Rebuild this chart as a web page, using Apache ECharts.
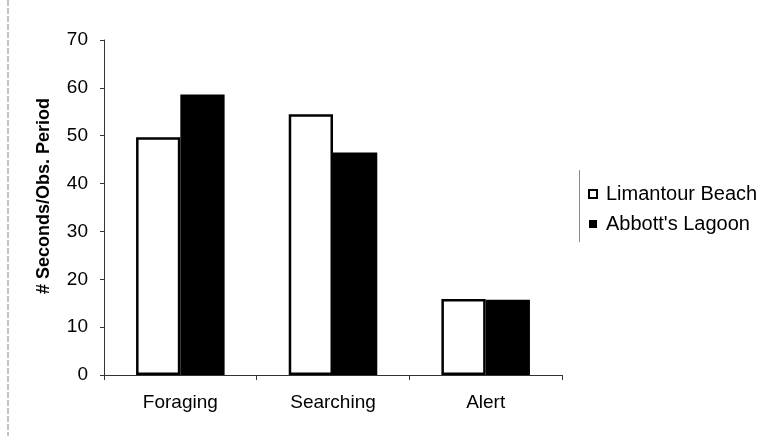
<!DOCTYPE html>
<html><head><meta charset="utf-8">
<script src="https://cdn.jsdelivr.net/npm/echarts@6/dist/echarts.min.js"></script>
<style>html,body{margin:0;padding:0;background:#fff}#c{width:761px;height:436px}</style>
</head><body><div id="c"></div>
<script>
const categories = ['Foraging', 'Searching', 'Alert'];
const limantour = [49.7, 54.5, 15.9];
const abbotts = [58.6, 46.5, 15.7];
const seriesNames = ['Limantour Beach', "Abbott's Lagoon"];
const yTicks = [0, 10, 20, 30, 40, 50, 60, 70];
const yTitle = '# Seconds/Obs. Period';

const chart = echarts.init(document.getElementById('c'));
const font = 'Liberation Sans, Arial, sans-serif';
chart.setOption({
  animation: false,
  backgroundColor: '#fff',
  grid: { left: 104, right: 199, top: 40, bottom: 61, containLabel: false },
  xAxis: {
    type: 'category', data: categories,
    axisLine: { lineStyle: { color: '#333', width: 1 } },
    axisTick: { show: true, length: 5, lineStyle: { color: '#333' } },
    axisLabel: { color: '#000', fontSize: 19, fontFamily: font, margin: 18 }
  },
  yAxis: {
    type: 'value', min: yTicks[0], max: yTicks[yTicks.length - 1], interval: 10,
    axisLine: { show: true, lineStyle: { color: '#333', width: 1 } },
    axisTick: { show: true, length: 4, lineStyle: { color: '#333' } },
    axisLabel: { color: '#000', fontSize: 19, fontFamily: font, margin: 16 },
    splitLine: { show: false }
  },
  legend: {
    orient: 'vertical', left: 583, top: 179, itemGap: 10,
    itemWidth: 8, itemHeight: 8, icon: 'rect',
    textStyle: { color: '#000', fontSize: 20, lineHeight: 20, fontFamily: font, padding: [0, 0, 0, 4] },
    data: seriesNames
  },
  series: [
    { name: seriesNames[0], type: 'bar', data: limantour, barGap: '0%', barCategoryGap: '42%',
      itemStyle: { color: '#fff', borderColor: '#000', borderWidth: 2.5 } },
    { name: seriesNames[1], type: 'bar', data: abbotts,
      itemStyle: { color: '#000', borderColor: '#000', borderWidth: 0 } }
  ],
  graphic: [
    { type: 'text', x: 44, y: 196, rotation: Math.PI / 2,
      style: { text: yTitle, fill: '#000', font: 'bold 18px ' + font, textAlign: 'center', textVerticalAlign: 'middle' } },
    { type: 'line', shape: { x1: 8, y1: 0, x2: 8, y2: 436 }, style: { stroke: '#888', lineWidth: 1, lineDash: [6, 2] } },
    { type: 'line', shape: { x1: 579.5, y1: 170, x2: 579.5, y2: 242 }, style: { stroke: '#888', lineWidth: 1 } }
  ]
});
</script></body></html>
